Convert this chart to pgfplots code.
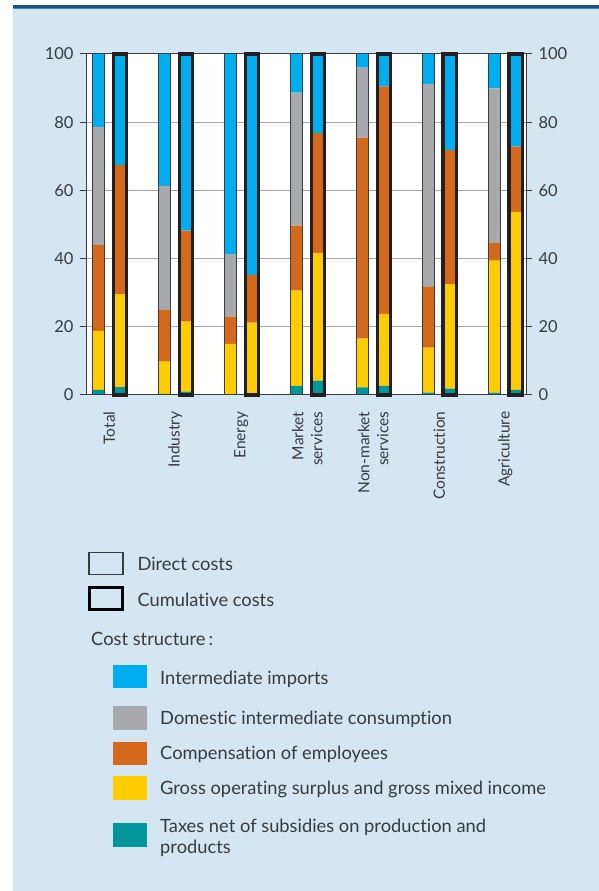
\documentclass[border=0pt]{standalone}
\usepackage{pgfplots}
\pgfplotsset{compat=1.18}
\usepackage{pgfplotstable}
\usepackage{fontspec}
\setmainfont[Ligatures=NoCommon]{Lato}
\definecolor{panel}{HTML}{D4E6F1}
\definecolor{navy}{HTML}{1B4F8A}
\definecolor{midblue}{HTML}{4A86C5}
\definecolor{cimp}{HTML}{00AEEF}
\definecolor{cdom}{HTML}{A7A9AC}
\definecolor{ccomp}{HTML}{D4691C}
\definecolor{cgos}{HTML}{FFCC00}
\definecolor{ctax}{HTML}{00969B}
\definecolor{txt}{HTML}{3A3A3A}
\definecolor{axln}{HTML}{3C3C3C}
\definecolor{gridc}{HTML}{A6A6A6}
\definecolor{thick}{HTML}{231F20}

% x: category k, direct at k-0.16, cumulative at k+0.16
\pgfplotstableread{
x     tax  gos   comp  dom   imp
-0.16 1.5  17.3  25.2  34.6  21.4
0.16  2.3  27.3  37.9  0     32.5
0.84  0.3  9.5   15.1  36.4  38.7
1.16  1.0  20.5  26.7  0     51.8
1.84  0.2  14.8  8.0   18.4  58.6
2.16  0.5  20.7  14.0  0     64.8
2.84  2.7  27.9  19.1  39.0  11.3
3.16  4.2  37.5  35.1  0     23.2
3.84  2.2  14.3  59.0  20.5  4.0
4.16  2.7  21.1  66.6  0     9.6
4.84  0.7  13.2  17.8  59.5  8.8
5.16  1.9  30.6  39.4  0     28.1
5.84  0.7  38.7  5.2   45.3  10.1
6.16  1.5  52.2  19.1  0     27.2
}\costs

\pgfplotsset{
  common/.style={
    at={(86pt,496pt)}, anchor=south west,
    width=440pt, height=341pt, scale only axis,
    xmin=-0.353, xmax=6.314, ymin=0, ymax=100,
    ytick={0,20,...,100},
    /pgf/number format/assume math mode=true,
    tick align=outside,
    major tick length=6pt,
    tick style={draw=axln, line width=1pt},
    yticklabel shift=3pt,
    yticklabel style={font=\fontsize{16.5}{19}\selectfont, text=txt},
  }
}

\begin{document}
\begin{tikzpicture}[x=1pt,y=1pt]
\fill[white] (0,0) rectangle (599,891);
\fill[panel] (13,0) rectangle (599,883);
\fill[navy] (13,883) rectangle (599,885.5);
\fill[midblue] (13,882) rectangle (599,883);

\begin{axis}[common,
  ybar stacked, bar width=12pt,
  axis background/.style={fill=white},
  axis line style={draw=axln, line width=1pt},
  ymajorgrids, grid style={draw=gridc, line width=1pt},
  ytick pos=left, yticklabel pos=left,
  xtick={0,...,6},
  xticklabels={Total, Industry, Energy, {Market\\services}, {Non-market\\services}, Construction, Agriculture},
  x tick style={draw=none},
  xticklabel shift=7pt,
  x tick label style={rotate=90, anchor=east, align=right, font=\fontsize{15.5}{19}\selectfont, text=txt},
]
\addplot[fill=ctax, draw=none] table[x=x, y=tax] {\costs};
\addplot[fill=cgos, draw=none] table[x=x, y=gos] {\costs};
\addplot[fill=ccomp, draw=none] table[x=x, y=comp] {\costs};
\addplot[fill=cdom, draw=none] table[x=x, y=dom] {\costs};
\addplot[fill=cimp, draw=none] table[x=x, y=imp] {\costs};
\end{axis}

\begin{axis}[common, clip=false,
  axis line style={draw=none},
  ytick pos=right, yticklabel pos=right,
  xtick=\empty,
]
\addplot[ybar, bar shift=0pt, bar width=12.5pt, draw=axln, line width=1pt, fill=none]
  coordinates {(-0.16,100) (0.84,100) (1.84,100) (2.84,100) (3.84,100) (4.84,100) (5.84,100)};
\addplot[ybar, bar shift=0pt, bar width=13.4pt, draw=thick, line width=3.3pt, fill=none]
  coordinates {(0.16,100) (1.16,100) (2.16,100) (3.16,100) (4.16,100) (5.16,100) (6.16,100)};
\end{axis}

% legend
\begin{scope}[every node/.style={text=txt, font=\fontsize{18.3}{21}\selectfont, inner sep=0pt}]
\draw[axln, line width=1.3pt] (89,316.5) rectangle (123,338.5);
\node[anchor=base west] at (137.3,320.3) {Direct costs};
\draw[thick, line width=3.3pt] (89.7,281.7) rectangle (122.3,303.3);
\node[anchor=base west] at (137.3,284.3) {Cumulative costs};
\node[anchor=base west] at (91,245) {Cost structure\,:};
\fill[cimp] (113,203) rectangle (147,226);
\node[anchor=base west] at (160,206.7) {Intermediate imports};
\fill[cdom] (113,161) rectangle (147,185);
\node[anchor=base west] at (160,166) {Domestic intermediate consumption};
\fill[ccomp] (113,126) rectangle (147,149);
\node[anchor=base west] at (160,131) {Compensation of employees};
\fill[cgos] (113,91) rectangle (147,115);
\node[anchor=base west] at (160,96) {Gross operating surplus and gross mixed income};
\fill[ctax] (113,44) rectangle (147,68);
\node[anchor=base west] at (160,58.7) {Taxes net of subsidies on production and};
\node[anchor=base west] at (160,37.7) {products};
\end{scope}
\end{tikzpicture}
\end{document}
